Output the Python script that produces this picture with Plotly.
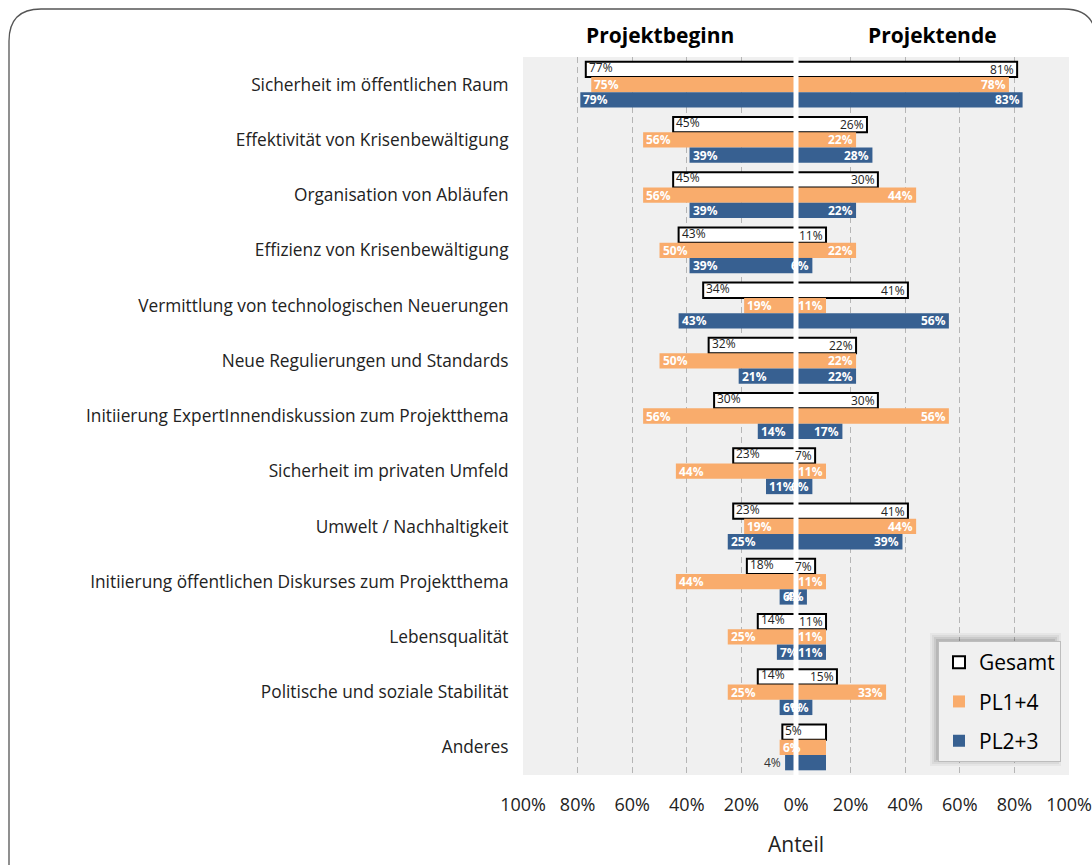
import plotly.graph_objects as go

categories = [
    "Sicherheit im öffentlichen Raum",
    "Effektivität von Krisenbewältigung",
    "Organisation von Abläufen",
    "Effizienz von Krisenbewältigung",
    "Vermittlung von technologischen Neuerungen",
    "Neue Regulierungen und Standards",
    "Initiierung ExpertInnendiskussion zum Projektthema",
    "Sicherheit im privaten Umfeld",
    "Umwelt / Nachhaltigkeit",
    "Initiierung öffentlichen Diskurses zum Projektthema",
    "Lebensqualität",
    "Politische und soziale Stabilität",
    "Anderes",
]

# Projektbeginn (left side) and Projektende (right side), in percent
gesamt_beginn = [77, 45, 45, 43, 34, 32, 30, 23, 23, 18, 14, 14, 5]
gesamt_ende = [81, 26, 30, 11, 41, 22, 30, 7, 41, 7, 11, 15, 11]
pl14_beginn = [75, 56, 56, 50, 19, 50, 56, 44, 19, 44, 25, 25, 6]
pl14_ende = [78, 22, 44, 22, 11, 22, 56, 11, 44, 11, 11, 33, 11]
pl23_beginn = [79, 39, 39, 39, 43, 21, 14, 11, 25, 6, 7, 6, 4]
pl23_ende = [83, 28, 22, 6, 56, 22, 17, 6, 39, 4, 11, 6, 11]

series_names = ["Gesamt", "PL1+4", "PL2+3"]
hidden_right_labels = ["Anderes"]

tick_values = [-100, -80, -60, -40, -20, 0, 20, 40, 60, 80, 100]
tick_labels = ["100%", "80%", "60%", "40%", "20%", "0%", "20%", "40%", "60%", "80%", "100%"]

# ---------------- figure -----------------
W, H = 1092, 865
PX0, PX1 = 523, 1069     # plot area in pixels
PY0, PY1 = 57, 775
L, R, T, B = PX0, W - PX1, PY0, H - PY1

def pxx(px):  # px -> paper x
    return (px - PX0) / (PX1 - PX0)

def pxy(py):  # px -> paper y
    return (PY1 - py) / (PY1 - PY0)

FONT = "Open Sans"
ORANGE = "#F9AC6C"
BLUE = "#376091"

styles = {
    "Gesamt": dict(color="white", line=dict(color="black", width=2)),
    "PL1+4": dict(color=ORANGE, line=dict(color=ORANGE, width=0)),
    "PL2+3": dict(color=BLUE, line=dict(color=BLUE, width=0)),
}
data = {
    "Gesamt": (gesamt_beginn, gesamt_ende),
    "PL1+4": (pl14_beginn, pl14_ende),
    "PL2+3": (pl23_beginn, pl23_ende),
}

ypos = list(range(len(categories)))
fig = go.Figure()
for name in series_names:
    left, right = data[name]
    fig.add_trace(go.Bar(
        y=ypos, x=[-v for v in left], orientation="h", name=name,
        marker=styles[name], offsetgroup=name, legendgroup=name,
        showlegend=True, hoverinfo="skip"))
    fig.add_trace(go.Bar(
        y=ypos, x=right, orientation="h", name=name,
        marker=styles[name], offsetgroup=name, legendgroup=name,
        showlegend=False, hoverinfo="skip"))

bargap = 0.17
bw = (1 - bargap) / 3
offsets = {"Gesamt": -bw, "PL1+4": 0.0, "PL2+3": bw}

annotations = []
for name in series_names:
    left, right = data[name]
    is_g = name == "Gesamt"
    fcol = "#222222" if is_g else "white"
    fweight = 400 if is_g else 700
    for i, cat in enumerate(categories):
        y = i + offsets[name]
        lv = left[i]
        if lv < 5:
            annotations.append(dict(x=-lv, y=y, xref="x", yref="y", text=f"{lv}%",
                                    showarrow=False, xanchor="right", xshift=-2,
                                    font=dict(family=FONT, size=12, color="#333333")))
        else:
            annotations.append(dict(x=-lv, y=y, xref="x", yref="y", text=f"{lv}%",
                                    showarrow=False, xanchor="left", xshift=1,
                                    yshift=2 if is_g else 0,
                                    font=dict(family=FONT, size=12, color=fcol, weight=fweight)))
        if cat not in hidden_right_labels:
            rv = right[i]
            annotations.append(dict(x=rv, y=y, xref="x", yref="y", text=f"{rv}%",
                                    showarrow=False, xanchor="right", xshift=-1,
                                    font=dict(family=FONT, size=12, color=fcol, weight=fweight)))

annotations.append(dict(x=-50, y=1, xref="x", yref="paper", text="Projektbeginn",
                        showarrow=False, yanchor="middle", yshift=22,
                        font=dict(family=FONT, size=21, color="black", weight=700)))
annotations.append(dict(x=50, y=1, xref="x", yref="paper", text="Projektende",
                        showarrow=False, yanchor="middle", yshift=22,
                        font=dict(family=FONT, size=21, color="black", weight=700)))

shapes = []
# white separator at zero
shapes.append(dict(type="line", xref="x", yref="paper", x0=0, x1=0, y0=0, y1=1,
                   line=dict(color="white", width=5), layer="above"))
# outer rounded frame (pixel coordinates)
fx0, fx1, fy0, fy1, r = 9, 1096, 9, 900, 32
path = (f"M {pxx(fx0)},{pxy(fy1)} L {pxx(fx0)},{pxy(fy0 + r)} "
        f"Q {pxx(fx0)},{pxy(fy0)} {pxx(fx0 + r)},{pxy(fy0)} "
        f"L {pxx(fx1 - r)},{pxy(fy0)} Q {pxx(fx1)},{pxy(fy0)} {pxx(fx1)},{pxy(fy0 + r)} "
        f"L {pxx(fx1)},{pxy(fy1)}")
shapes.append(dict(type="path", xref="paper", yref="paper", path=path,
                   line=dict(color="#555555", width=1.3), layer="below"))
# legend shadow (pixel coordinates of the legend box)
lx0, lx1, ly0, ly1 = 938, 1057, 641, 762
for k, op in [(7, 0.04), (5, 0.05), (3, 0.07), (1, 0.09)]:
    shapes.append(dict(type="rect", xref="paper", yref="paper",
                       x0=pxx(lx0 - k - 1), x1=pxx(lx1 + k - 3),
                       y0=pxy(ly1 + k - 3), y1=pxy(ly0 - k - 1),
                       line=dict(width=0), fillcolor=f"rgba(0,0,0,{op})", layer="above"))

fig.update_layout(
    width=W, height=H,
    margin=dict(l=L, r=R, t=T, b=B, autoexpand=False),
    paper_bgcolor="white", plot_bgcolor="#F0F0F0",
    barmode="group", bargap=bargap, bargroupgap=0,
    font=dict(family=FONT, color="#222222"),
    annotations=annotations, shapes=shapes,
    showlegend=True,
    legend=dict(x=pxx(lx0), y=pxy(ly0), xanchor="left", yanchor="top",
                bgcolor="#F0F0F0", bordercolor="#BDBDBD", borderwidth=1,
                font=dict(family=FONT, size=21, color="black"),
                tracegroupgap=9, traceorder="grouped", itemwidth=30),
    xaxis=dict(range=[-100, 100], tickvals=tick_values, ticktext=tick_labels,
               showgrid=True, gridcolor="#B5B5B5", griddash="6px,4px", gridwidth=1,
               zeroline=False, showline=False, ticks="outside", ticklen=13,
               tickcolor="rgba(0,0,0,0)", tickfont=dict(family=FONT, size=18, color="#222222"),
               title=dict(text="Anteil", font=dict(family=FONT, size=21, color="#222222"),
                          standoff=22),
               automargin=False, fixedrange=True),
    yaxis=dict(range=[len(categories) - 0.5, -0.5], tickvals=ypos, ticktext=categories,
               showgrid=False, zeroline=False, showline=False, ticks="outside",
               ticklen=10, tickcolor="rgba(0,0,0,0)",
               tickfont=dict(family=FONT, size=17.3, color="#222222"),
               automargin=False, fixedrange=True),
)

fig.write_html(
    "out.html",
    config={"displayModeBar": False},
    post_script="document.body.style.margin='0';document.documentElement.style.overflow='hidden';",
)
